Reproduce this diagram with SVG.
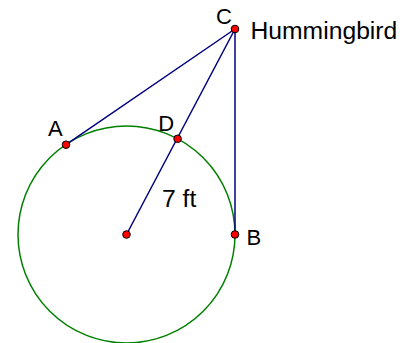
<svg xmlns="http://www.w3.org/2000/svg" width="414" height="343" viewBox="0 0 414 343">
<style>
.seg{stroke:#000080;stroke-width:1.5;fill:none}
.pt{fill:#ff0000;stroke:#000000;stroke-width:1}
.lbl{font-family:"Liberation Sans",Arial,sans-serif;font-size:22px;fill:#000000}
.big{font-size:24.7px}
</style>
<rect width="414" height="343" fill="#ffffff"/>
<g id="circle"><circle cx="126.5" cy="234.5" r="108.5" fill="none" stroke="#008000" stroke-width="1.5"/></g>
<g id="connectors">
<line class="seg" x1="235" y1="29" x2="66" y2="144.7"/>
<line class="seg" x1="235" y1="29" x2="126.5" y2="234.5"/>
<line class="seg" x1="235" y1="29" x2="235" y2="234.5"/>
</g>
<text class="lbl big" x="162" y="207">7 ft</text>
<g id="O"><circle class="pt" cx="126.5" cy="234.5" r="3.8"/></g>
<g id="A"><circle class="pt" cx="66" cy="144.7" r="3.8"/><text class="lbl" x="48" y="136">A</text></g>
<g id="D"><circle class="pt" cx="177.6" cy="138.8" r="3.8"/><text class="lbl" x="158.3" y="131">D</text></g>
<g id="B"><circle class="pt" cx="235" cy="234.5" r="3.8"/><text class="lbl" x="246.5" y="245">B</text></g>
<g id="C"><circle class="pt" cx="235" cy="29" r="3.8"/><text class="lbl" x="216" y="24">C</text><text class="lbl big" x="250.5" y="38.5">Hummingbird</text></g>
</svg>
